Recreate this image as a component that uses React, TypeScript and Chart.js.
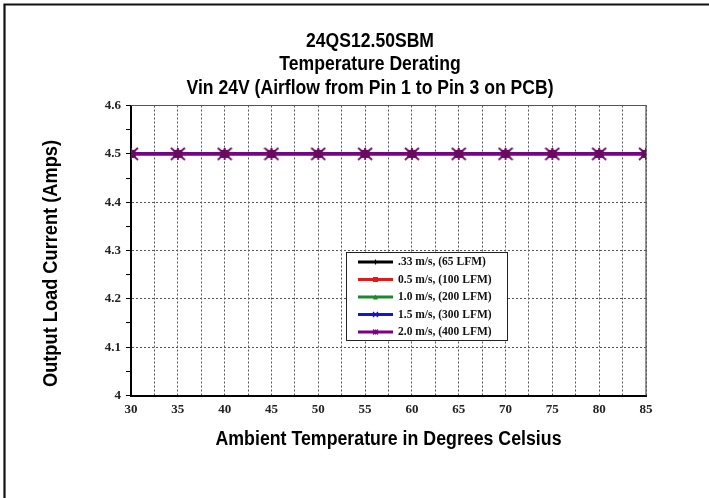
import React, { useEffect, useRef } from 'react';
import { Chart, registerables } from 'chart.js';

Chart.register(...registerables);

// ---------------- data ----------------
const temperatures = [30, 35, 40, 45, 50, 55, 60, 65, 70, 75, 80, 85];
const flow033 = [4.5, 4.5, 4.5, 4.5, 4.5, 4.5, 4.5, 4.5, 4.5, 4.5, 4.5, 4.5];
const flow05 = [4.5, 4.5, 4.5, 4.5, 4.5, 4.5, 4.5, 4.5, 4.5, 4.5, 4.5, 4.5];
const flow10 = [4.5, 4.5, 4.5, 4.5, 4.5, 4.5, 4.5, 4.5, 4.5, 4.5, 4.5, 4.5];
const flow15 = [4.5, 4.5, 4.5, 4.5, 4.5, 4.5, 4.5, 4.5, 4.5, 4.5, 4.5, 4.5];
const flow20 = [4.5, 4.5, 4.5, 4.5, 4.5, 4.5, 4.5, 4.5, 4.5, 4.5, 4.5, 4.5];
const seriesLabels = [
  '.33 m/s, (65 LFM)',
  '0.5 m/s, (100 LFM)',
  '1.0 m/s, (200 LFM)',
  '1.5 m/s, (300 LFM)',
  '2.0 m/s, (400 LFM)',
];
const titleLines = ['24QS12.50SBM', 'Temperature Derating', 'Vin 24V (Airflow from Pin 1 to Pin 3 on PCB)'];
const xTitle = 'Ambient Temperature in Degrees Celsius';
const yTitle = 'Output Load Current (Amps)';
const xTickValues = [30, 35, 40, 45, 50, 55, 60, 65, 70, 75, 80, 85];
const xTickLabels = ['30', '35', '40', '45', '50', '55', '60', '65', '70', '75', '80', '85'];
const yTickValues = [4, 4.1, 4.2, 4.3, 4.4, 4.5, 4.6];
const yTickLabels = ['4', '4.1', '4.2', '4.3', '4.4', '4.5', '4.6'];

// ---------------- styles ----------------
const SANS = '"Liberation Sans", Arial, sans-serif';
const SERIF = '"Liberation Serif", "DejaVu Serif", serif';
const seriesColors = ['#000000', '#e31a1c', '#1a8a2a', '#1414d2', '#800080'];
const markerStyles = ['cross', 'rect', 'triangle', 'crossRot', 'star'];

function makeStarMarker(fill: string, stroke: string) {
  const c = document.createElement('canvas');
  c.width = 16;
  c.height = 14;
  const g = c.getContext('2d')!;
  g.strokeStyle = stroke;
  g.lineWidth = 2;
  g.beginPath();
  g.moveTo(1, 1);
  g.lineTo(15, 13);
  g.moveTo(15, 1);
  g.lineTo(1, 13);
  g.moveTo(8, 1);
  g.lineTo(8, 13);
  g.moveTo(2, 7);
  g.lineTo(14, 7);
  g.stroke();
  g.fillStyle = fill;
  g.fillRect(3.5, 3, 9, 8);
  return c;
}

function findLabel(value: number, values: number[], labels: string[]) {
  for (let i = 0; i < values.length; i++) {
    if (Math.abs(values[i] - value) < 1e-6) return labels[i];
  }
  return '';
}

function isMajorY(value: number) {
  return yTickValues.some((v) => Math.abs(v - value) < 1e-6);
}

function fitText(ctx: CanvasRenderingContext2D, text: string, x: number, y: number, width: number) {
  const w = ctx.measureText(text).width;
  ctx.save();
  ctx.translate(x, y);
  ctx.scale(width / w, 1);
  ctx.fillText(text, 0, 0);
  ctx.restore();
}

function drawMiniMarker(ctx: CanvasRenderingContext2D, style: string, x: number, y: number, color: string) {
  ctx.save();
  ctx.strokeStyle = color;
  ctx.fillStyle = color;
  ctx.lineWidth = 1.2;
  const r = 2.5;
  ctx.beginPath();
  if (style === 'cross') {
    ctx.moveTo(x - r, y); ctx.lineTo(x + r, y); ctx.moveTo(x, y - r); ctx.lineTo(x, y + r); ctx.stroke();
  } else if (style === 'rect') {
    ctx.fillRect(x - r, y - r, 2 * r, 2 * r);
  } else if (style === 'triangle') {
    ctx.moveTo(x, y - r); ctx.lineTo(x + r, y + r); ctx.lineTo(x - r, y + r); ctx.closePath(); ctx.fill();
  } else if (style === 'crossRot') {
    ctx.moveTo(x - r, y - r); ctx.lineTo(x + r, y + r); ctx.moveTo(x + r, y - r); ctx.lineTo(x - r, y + r); ctx.stroke();
  } else {
    ctx.moveTo(x - r, y - r); ctx.lineTo(x + r, y + r); ctx.moveTo(x + r, y - r); ctx.lineTo(x - r, y + r);
    ctx.moveTo(x, y - r); ctx.lineTo(x, y + r); ctx.stroke();
  }
  ctx.restore();
}

const decorPlugin = {
  id: 'decor',
  beforeDatasetsDraw(chart: any) {
    const { ctx, chartArea } = chart;
    ctx.save();
    ctx.strokeStyle = '#555';
    ctx.lineWidth = 1.2;
    ctx.beginPath();
    ctx.moveTo(chartArea.left, chartArea.top);
    ctx.lineTo(chartArea.right, chartArea.top);
    ctx.lineTo(chartArea.right, chartArea.bottom);
    ctx.stroke();
    ctx.restore();
  },
  afterDraw(chart: any) {
    const { ctx, chartArea } = chart;
    ctx.save();
    // outer frame (top and left edges)
    ctx.strokeStyle = '#111';
    ctx.lineWidth = 2.2;
    ctx.beginPath();
    ctx.moveTo(4.5, 498);
    ctx.lineTo(4.5, 4.5);
    ctx.lineTo(709, 4.5);
    ctx.stroke();

    const cx = (chartArea.left + chartArea.right) / 2;
    ctx.fillStyle = '#000';
    ctx.textAlign = 'center';
    ctx.textBaseline = 'alphabetic';

    // main title (three lines, condensed heavy face)
    ctx.font = `bold 19.5px ${SANS}`;
    const lastW = ctx.measureText(titleLines[2]).width;
    const squeeze = 367 / lastW;
    const titleCx = 370;
    const tb = [47, 70, 93.5];
    titleLines.forEach((t, i) => fitText(ctx, t, titleCx, tb[i], ctx.measureText(t).width * squeeze));

    // axis titles
    ctx.font = `bold 19.5px ${SANS}`;
    fitText(ctx, xTitle, cx, 445, 346);

    ctx.save();
    ctx.translate(57, 263.5);
    ctx.rotate(-Math.PI / 2);
    fitText(ctx, yTitle, 0, 0, 247);
    ctx.restore();

    // legend box
    const bx = 346, by = 252, bw = 161, bh = 88;
    ctx.fillStyle = '#fff';
    ctx.fillRect(bx, by, bw, bh);
    ctx.strokeStyle = '#222';
    ctx.lineWidth = 1;
    ctx.strokeRect(bx + 0.5, by + 0.5, bw, bh);
    const rowY = [262, 279.5, 297, 314.5, 332];
    ctx.font = `bold 11.5px ${SERIF}`;
    ctx.textAlign = 'left';
    ctx.textBaseline = 'middle';
    chart.data.datasets.forEach((ds: any, i: number) => {
      const y = rowY[i];
      ctx.strokeStyle = ds.borderColor;
      ctx.lineWidth = 3;
      ctx.beginPath();
      ctx.moveTo(358, y);
      ctx.lineTo(393, y);
      ctx.stroke();
      drawMiniMarker(ctx, markerStyles[i], 375.5, y, ds.borderColor);
      ctx.fillStyle = '#111';
      ctx.fillText(ds.label, 398, y + 0.5);
    });
    ctx.restore();
  },
};

export default function App() {
  const ref = useRef<HTMLCanvasElement | null>(null);

  useEffect(() => {
    document.body.style.margin = '0';
    const canvas = ref.current;
    if (!canvas) return;
    const allSeries = [flow033, flow05, flow10, flow15, flow20];
    const star = makeStarMarker('#6a0a5e', '#7a1070');
    const datasets = allSeries.map((vals, i) => ({
      label: seriesLabels[i],
      data: temperatures.map((t, j) => ({ x: t, y: vals[j] })),
      borderColor: seriesColors[i],
      backgroundColor: seriesColors[i],
      borderWidth: 3,
      pointStyle: i === 4 ? (star as any) : markerStyles[i],
      pointRadius: i === 4 ? 7 : 4,
      pointBorderWidth: 2,
      order: 4 - i,
      tension: 0,
    }));

    const chart = new Chart(canvas, {
      type: 'line',
      data: { datasets },
      plugins: [decorPlugin],
      options: {
        animation: false,
        responsive: false,
        devicePixelRatio: 1,
        layout: { padding: { left: 0, top: 105.5, right: 63, bottom: 0 } },
        plugins: {
          legend: { display: false },
          title: { display: false },
          tooltip: { enabled: false },
        },
        scales: {
          x: {
            type: 'linear',
            min: 30,
            max: 85,
            afterFit: (scale: any) => { scale.height = 102.5; },
            ticks: {
              stepSize: 2.5,
              autoSkip: false,
              maxRotation: 0,
              padding: 6,
              color: '#222',
              font: { family: SERIF, size: 13, weight: 'bold' },
              callback: (v: any) => findLabel(Number(v), xTickValues, xTickLabels),
            },
            grid: { color: '#555', lineWidth: 1, drawTicks: false },
            border: { display: true, color: '#000', width: 2, dash: [2, 2] },
          },
          y: {
            type: 'linear',
            min: 4,
            max: 4.6,
            afterFit: (scale: any) => { scale.width = 131; },
            ticks: {
              stepSize: 0.05,
              autoSkip: false,
              padding: 5,
              color: '#222',
              font: { family: SERIF, size: 13, weight: 'bold' },
              callback: (v: any) => findLabel(Number(v), yTickValues, yTickLabels),
            },
            grid: {
              color: (c: any) => (c.tick && isMajorY(c.tick.value) ? '#555' : 'rgba(0,0,0,0)'),
              lineWidth: 1,
              drawTicks: true,
              tickLength: 5,
              tickColor: '#000',
              tickWidth: 1,
            },
            border: { display: true, color: '#000', width: 2, dash: [2, 2] },
          },
        },
      } as any,
    });
    return () => chart.destroy();
  }, []);

  return (
    <div style={{ width: 709, height: 498, background: '#fff' }}>
      <canvas ref={ref} width={709} height={498} style={{ display: 'block', width: 709, height: 498 }} />
    </div>
  );
}
